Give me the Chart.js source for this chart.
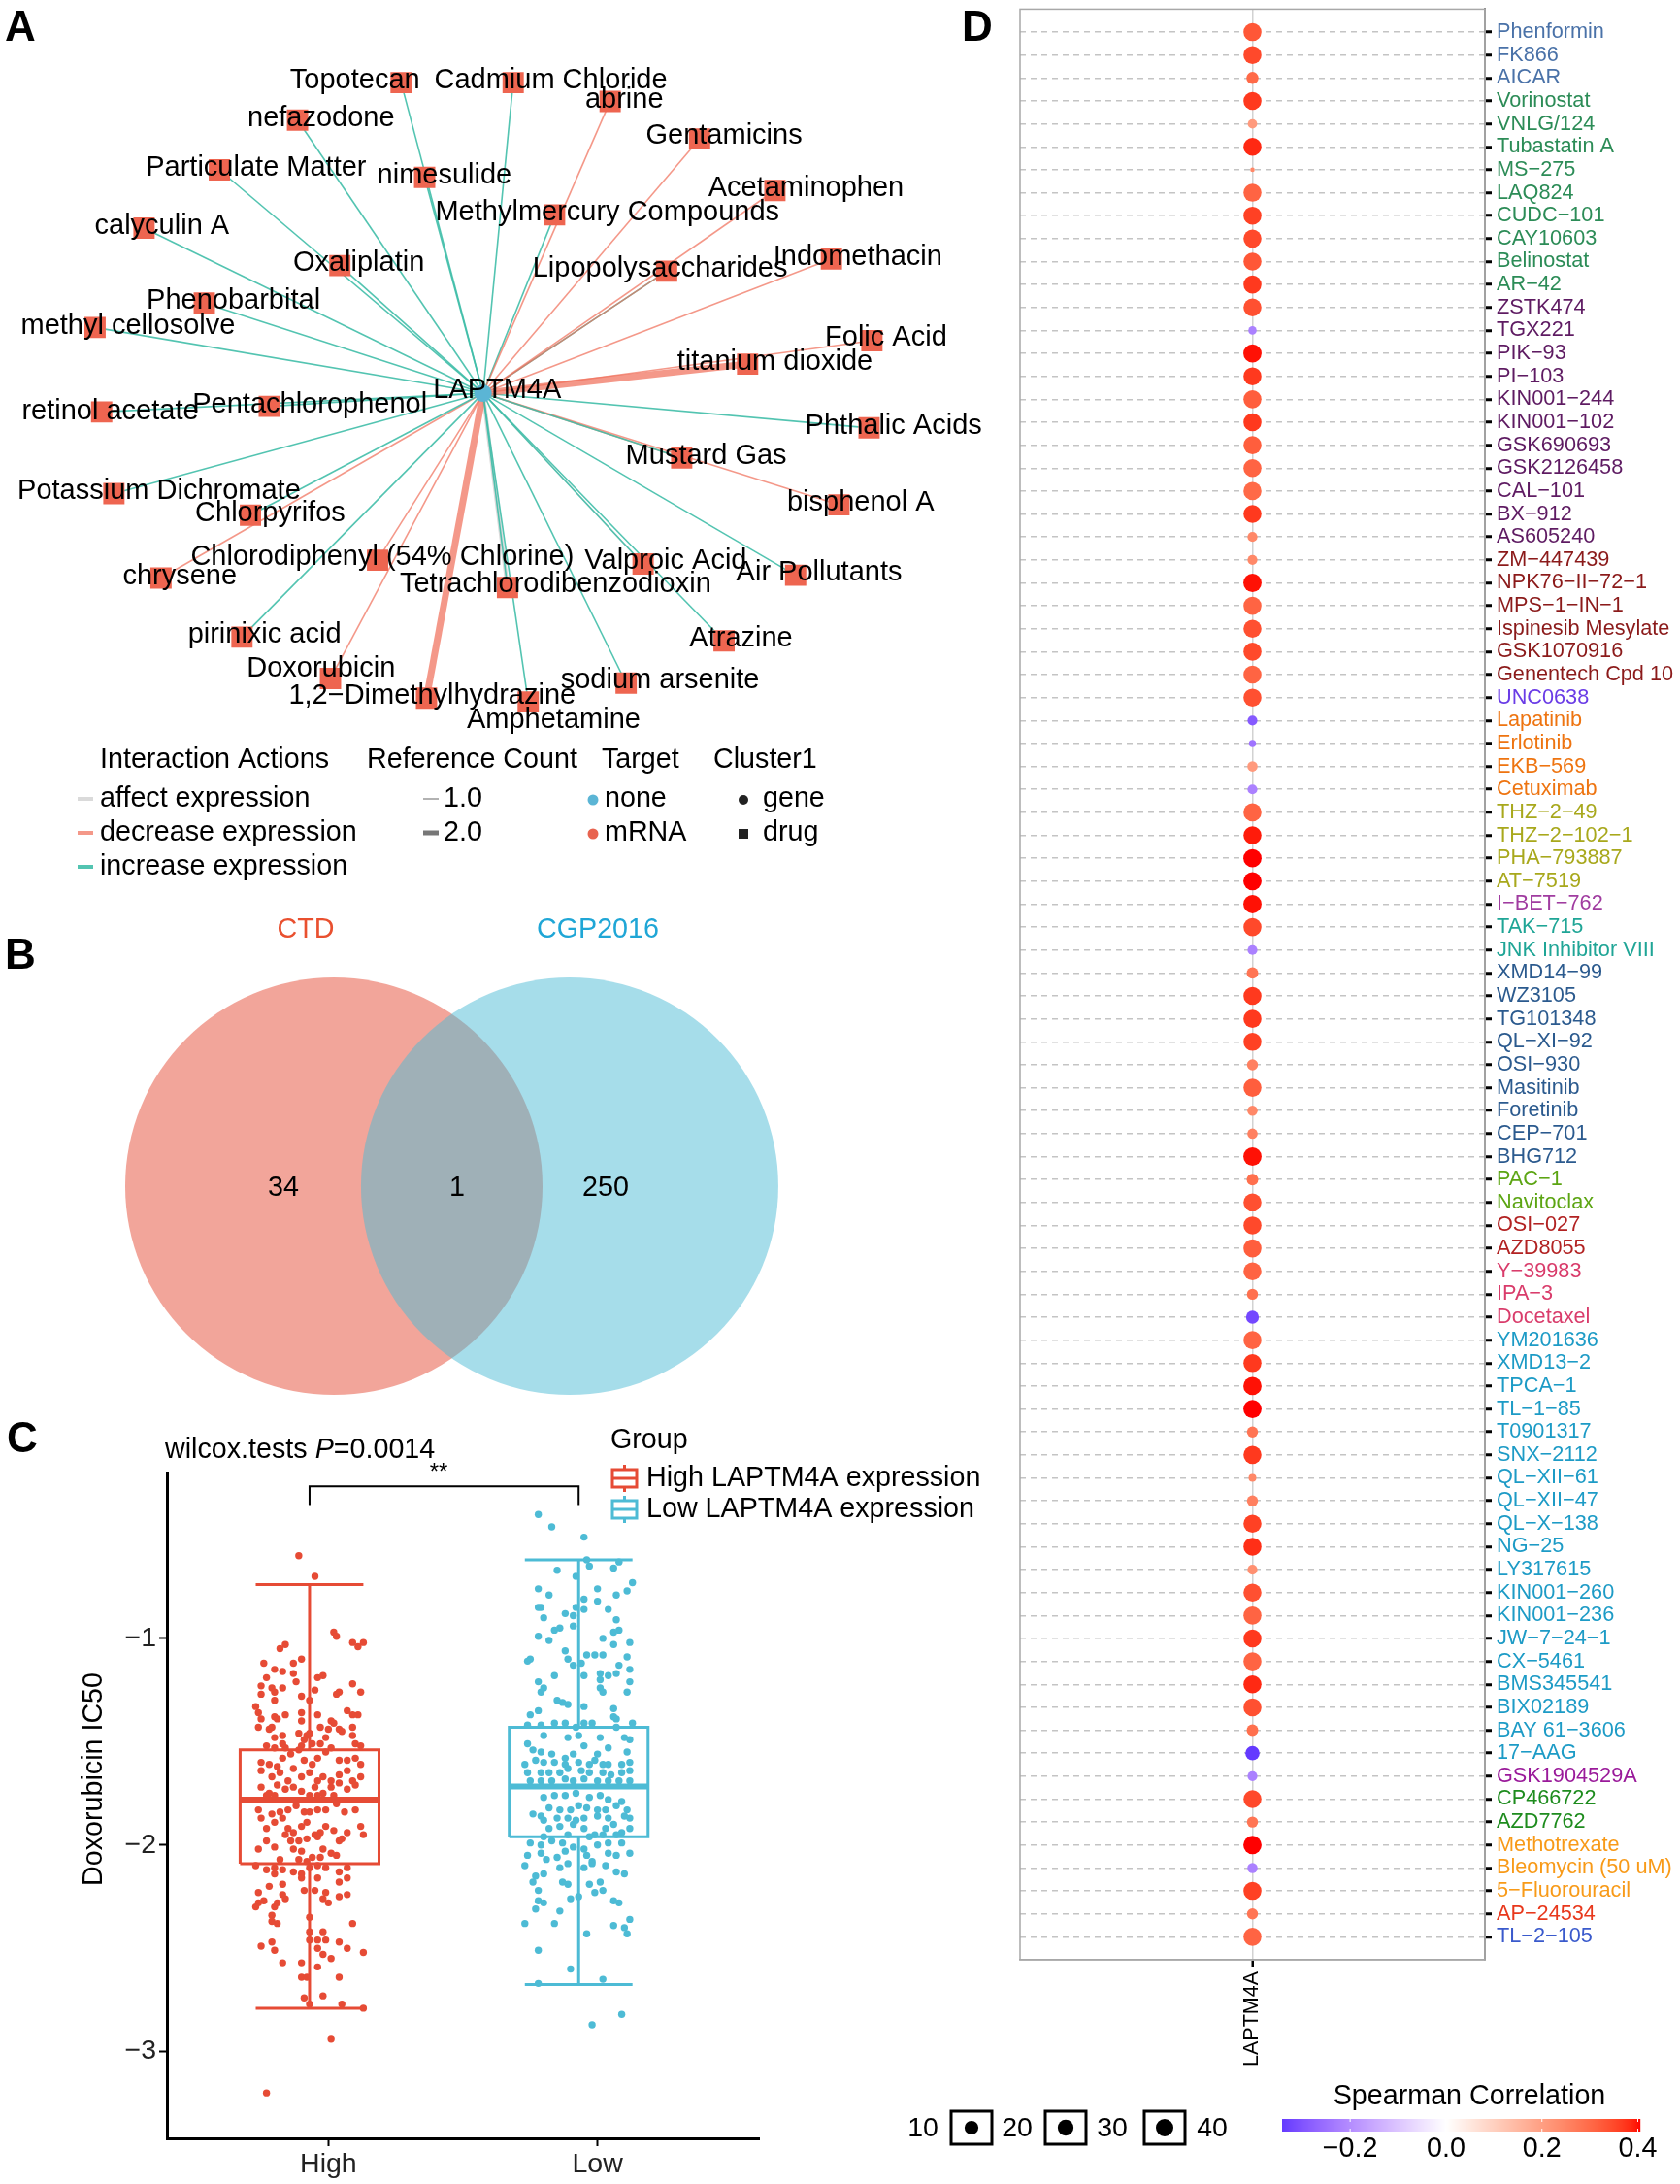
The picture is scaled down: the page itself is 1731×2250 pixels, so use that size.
<!DOCTYPE html>
<html>
<head>
<meta charset="utf-8">
<script src="https://cdn.jsdelivr.net/npm/chart.js@4.4.1/dist/chart.umd.min.js"></script>
<style>
html, body { margin: 0; padding: 0; background: #fff; }
body { width: 1731px; height: 2250px; position: relative; overflow: hidden; }
canvas { position: absolute; }
</style>
</head>
<body>
<canvas id="netChart" width="1040" height="930" style="left:0;top:0"></canvas>
<canvas id="vennChart" width="840" height="520" style="left:0;top:930px"></canvas>
<canvas id="boxChart" width="1040" height="810" style="left:0;top:1440px"></canvas>
<canvas id="dotChart" width="831" height="2250" style="left:900px;top:0"></canvas>
<script>
/* ---------- DATA: A (CTD interaction network) ---------- */
const geneName = "LAPTM4A";
const nodeNames = ["Topotecan", "Cadmium Chloride", "abrine", "nefazodone", "Gentamicins",
    "Particulate Matter", "nimesulide", "Acetaminophen", "Methylmercury Compounds", "calyculin A",
    "Oxaliplatin", "Lipopolysaccharides", "Indomethacin", "Phenobarbital", "methyl cellosolve",
    "Folic Acid", "titanium dioxide", "retinol acetate", "Pentachlorophenol", "Phthalic Acids",
    "Mustard Gas", "Potassium Dichromate", "bisphenol A", "Chlorpyrifos", "Chlorodiphenyl (54% Chlorine)",
    "Valproic Acid", "Air Pollutants", "chrysene", "Tetrachlorodibenzodioxin", "pirinixic acid",
    "Atrazine", "Doxorubicin", "sodium arsenite", "1,2\u2212Dimethylhydrazine", "Amphetamine"];
// layout coordinates (gene at 0,0)
const nodeX = [-8.7, 3.2, 13.5, -19.7, 23.0, -28.0, -6.2, 31.0, 7.6, -36.0, -15.2, 19.5, 37.0, -29.6, -41.2,
    41.3, 28.1, -40.5, -22.7, 41.0, 21.1, -39.2, 37.8, -24.7, -11.2, 17.0, 33.2, -34.2, 2.6, -25.6,
    25.6, -16.2, 15.2, -6.0, 4.8];
const nodeY = [33.1, 33.1, 31.1, 29.1, 27.1, 23.8, 23.0, 21.6, 19.0, 17.6, 13.6, 13.0, 14.3, 9.6, 7.0,
    5.6, 3.1, -2.0, -1.4, -3.7, -6.9, -10.7, -11.9, -13.0, -17.8, -18.2, -19.4, -19.7, -20.7, -26.0,
    -26.4, -30.4, -30.9, -32.5, -32.9];
const labelX = [-13.6, 7.2, 15.0, -17.2, 25.6, -24.1, -4.1, 34.3, 13.2, -34.1, -13.2, 18.8, 39.8, -26.5, -37.7,
    42.8, 31.0, -39.6, -18.4, 43.6, 23.7, -34.4, 40.1, -22.6, -10.7, 19.4, 35.7, -32.2, 7.7, -23.2,
    27.4, -17.2, 18.8, -5.4, 7.5];
const labelY = [33.3, 33.3, 31.3, 29.3, 27.4, 24.0, 23.2, 21.8, 19.2, 17.8, 13.9, 13.2, 14.5, 9.8, 7.1,
    5.9, 3.3, -2.0, -1.2, -3.5, -6.7, -10.4, -11.7, -12.8, -17.5, -17.9, -19.1, -19.5, -20.4, -25.8,
    -26.2, -29.4, -30.6, -32.3, -34.9];
const geneLabel = [1.5, 0.3];
const edgeNode = [0, 1, 2, 3, 4, 5, 6, 7, 8, 9, 10, 11, 11, 12, 13, 14, 15, 16, 17, 18, 19, 20, 20,
    21, 22, 23, 24, 25, 25, 26, 27, 28, 28, 29, 30, 31, 32, 33, 34];
const edgeAction = ["increase", "increase", "decrease", "increase", "decrease", "increase", "increase",
    "decrease", "increase", "increase", "increase", "decrease", "increase", "decrease", "increase",
    "increase", "decrease", "decrease", "increase", "increase", "increase", "increase", "decrease",
    "increase", "decrease", "increase", "decrease", "affect", "increase", "increase", "decrease",
    "affect", "increase", "increase", "increase", "decrease", "increase", "decrease", "increase"];
const edgeRefs = [1, 1, 1, 1, 1, 1, 1, 1, 1, 1, 1, 1, 1, 1, 1, 1, 1, 2, 1, 1, 1, 1, 1,
    1, 1, 1, 1, 1, 1, 1, 1, 2, 1, 1, 1, 1, 1, 2, 1];

/* ---------- DATA: B (Venn) ---------- */
const vennSets = ["CTD", "CGP2016"];
const vennCounts = [34, 1, 250];   // CTD only, shared, CGP2016 only

/* ---------- DATA: C (Doxorubicin IC50 by group) ---------- */
const groupNames = ["High", "Low"];
const groupLegend = ["High LAPTM4A expression", "Low LAPTM4A expression"];
const pValue = "0.0014";
const yTicksC = [-1, -2, -3];
// [lower whisker, Q1, median, Q3, upper whisker]
const boxStats = [[-2.79, -2.09, -1.78, -1.54, -0.74], [-2.675, -1.96, -1.717, -1.43, -0.62]];
// [IC50, jitter]
const highPoints = [[-0.60,-0.04],[-0.70,0.02],[-0.97,0.09],[-0.99,0.10],[-1.02,0.16],[-1.02,0.20],[-1.04,0.18],
[-1.03,-0.09],[-1.05,-0.11],[-1.10,-0.03],[-1.12,-0.06],[-1.12,-0.17],[-1.15,-0.13],[-1.16,-0.10],[-1.17,-0.06],
[-1.19,-0.16],[-1.21,-0.05],[-1.19,0.03],[-1.18,0.05],[-1.23,-0.18],[-1.24,-0.14],[-1.24,-0.10],[-1.26,-0.13],
[-1.27,-0.18],[-1.26,0.11],[-1.27,0.10],[-1.22,0.16],[-1.26,0.19],[-1.28,-0.03],[-1.25,0.02],[-1.30,-0.13],
[-1.30,0.00],[-1.33,-0.20],[-1.36,-0.19],[-1.36,-0.03],[-1.37,-0.09],[-1.38,-0.13],[-1.39,-0.12],[-1.39,-0.18],
[-1.35,0.14],[-1.37,0.16],[-1.37,0.18],[-1.37,0.03],[-1.40,0.08],[-1.40,-0.03],[-1.43,-0.19],[-1.44,-0.15],
[-1.43,-0.14],[-1.43,0.04],[-1.41,0.09],[-1.44,0.11],[-1.44,0.07],[-1.43,0.16],[-1.45,0.12],[-1.46,-0.04],
[-1.47,-0.01],[-1.46,0.00],[-1.47,-0.10],[-1.48,-0.13],[-1.48,0.06],[-1.49,-0.02],[-1.47,0.16],[-1.51,0.17],
[-1.52,0.19],[-1.52,-0.16],[-1.53,-0.13],[-1.51,-0.10],[-1.53,-0.09],[-1.52,-0.03],[-1.51,0.01],[-1.51,0.04],
[-1.53,0.08],[-1.60,-0.18],[-1.61,-0.15],[-1.62,-0.12],[-1.58,-0.10],[-1.56,-0.07],[-1.54,-0.04],[-1.59,-0.02],
[-1.61,0.01],[-1.58,0.03],[-1.55,0.06],[-1.59,0.11],[-1.59,0.14],[-1.58,0.17],[-1.61,0.19],[-1.64,-0.18],
[-1.67,-0.14],[-1.65,-0.11],[-1.69,-0.08],[-1.63,-0.06],[-1.67,-0.03],[-1.65,0.00],[-1.69,0.03],[-1.67,0.05],
[-1.69,0.08],[-1.66,0.11],[-1.64,0.14],[-1.69,0.16],[-1.67,0.19],[-1.72,-0.18],[-1.75,-0.15],[-1.71,-0.12],
[-1.73,-0.09],[-1.72,-0.06],[-1.74,-0.03],[-1.76,0.00],[-1.72,0.02],[-1.75,0.05],[-1.72,0.08],[-1.70,0.11],
[-1.73,0.14],[-1.71,0.17],[-1.76,-0.16],[-1.76,-0.13],[-1.76,0.03],[-1.76,0.09],[-1.83,-0.19],[-1.87,-0.18],
[-1.85,-0.14],[-1.84,-0.11],[-1.83,-0.08],[-1.81,-0.05],[-1.84,-0.02],[-1.84,0.00],[-1.83,0.03],[-1.83,0.06],
[-1.80,0.10],[-1.84,0.13],[-1.83,0.17],[-1.92,-0.16],[-1.89,-0.13],[-1.87,-0.10],[-1.92,-0.08],[-1.94,-0.06],
[-1.91,-0.03],[-1.89,-0.01],[-1.95,0.02],[-1.94,0.04],[-1.91,0.06],[-1.93,0.09],[-1.97,0.12],[-1.94,0.14],
[-1.91,0.19],[-1.95,0.20],[-2.02,-0.19],[-1.98,-0.16],[-2.01,-0.13],[-1.95,-0.09],[-1.98,-0.07],[-1.98,-0.04],
[-1.97,-0.01],[-1.96,0.03],[-2.02,0.05],[-2.04,0.08],[-1.98,0.11],[-2.02,-0.06],[-2.03,-0.03],[-2.06,0.01],
[-2.06,0.04],[-2.05,0.10],[-2.07,-0.11],[-2.07,-0.04],[-2.08,-0.01],[-2.10,-0.20],[-2.12,-0.16],[-2.11,-0.13],
[-2.12,-0.10],[-2.13,-0.06],[-2.14,-0.03],[-2.11,0.00],[-2.10,0.03],[-2.11,0.06],[-2.13,0.11],[-2.11,0.14],
[-2.14,-0.13],[-2.16,-0.03],[-2.16,0.03],[-2.18,0.11],[-2.16,0.14],[-2.20,-0.15],[-2.19,-0.10],[-2.22,-0.02],
[-2.22,0.02],[-2.23,0.06],[-2.25,0.11],[-2.24,0.14],[-2.23,-0.19],[-2.24,-0.10],[-2.28,-0.19],[-2.27,-0.17],
[-2.30,-0.13],[-2.26,-0.09],[-2.26,0.05],[-2.28,0.07],[-2.30,-0.20],[-2.28,-0.12],[-2.34,-0.14],[-2.38,-0.12],
[-2.37,-0.14],[-2.35,0.00],[-2.38,0.16],[-2.42,0.00],[-2.42,0.05],[-2.46,0.00],[-2.46,0.03],[-2.46,0.06],
[-2.49,-0.18],[-2.47,-0.14],[-2.51,-0.13],[-2.50,0.03],[-2.47,0.11],[-2.50,0.14],[-2.52,0.20],[-2.53,0.05],
[-2.55,0.08],[-2.57,-0.10],[-2.57,-0.03],[-2.59,0.03],[-2.64,-0.03],[-2.64,-0.01],[-2.64,0.11],[-2.74,-0.02],
[-2.73,0.05],[-2.77,0.12],[-2.77,0.00],[-2.79,0.20],[-2.94,0.08],[-3.20,-0.16]];
const lowPoints = [[-0.40,-0.15],[-0.46,-0.10],[-0.51,0.02],[-0.62,0.03],[-0.65,0.04],[-0.63,0.15],[-0.66,0.13],
[-0.67,-0.08],[-0.70,-0.01],[-0.73,0.20],[-0.76,-0.15],[-0.79,-0.11],[-0.76,0.07],[-0.77,0.18],[-0.79,0.14],
[-0.81,0.02],[-0.85,-0.14],[-0.85,-0.15],[-0.82,0.07],[-0.85,-0.01],[-0.86,0.02],[-0.86,0.11],[-0.88,-0.05],
[-0.89,-0.02],[-0.90,-0.13],[-0.91,0.14],[-0.94,-0.02],[-0.95,-0.07],[-0.96,-0.09],[-0.96,0.15],[-0.97,0.13],
[-0.99,-0.15],[-1.00,0.09],[-1.01,-0.11],[-1.03,0.13],[-1.02,0.19],[-1.06,-0.05],[-1.08,0.03],[-1.08,0.06],
[-1.08,0.09],[-1.10,-0.04],[-1.11,-0.19],[-1.10,-0.18],[-1.13,-0.02],[-1.12,0.01],[-1.09,0.18],[-1.13,0.15],
[-1.15,0.19],[-1.18,-0.09],[-1.18,0.02],[-1.17,0.08],[-1.17,0.14],[-1.18,0.11],[-1.20,0.08],[-1.21,-0.15],
[-1.24,-0.13],[-1.26,-0.14],[-1.21,0.19],[-1.24,0.08],[-1.26,0.09],[-1.26,0.18],[-1.30,-0.08],[-1.31,-0.06],
[-1.32,-0.04],[-1.33,0.02],[-1.34,0.13],[-1.35,-0.15],[-1.37,-0.18],[-1.38,0.13],[-1.39,0.14],[-1.42,-0.19],
[-1.42,-0.14],[-1.41,-0.09],[-1.41,-0.05],[-1.43,-0.01],[-1.41,0.02],[-1.41,0.05],[-1.43,0.14],[-1.41,0.20],
[-1.47,-0.13],[-1.48,-0.04],[-1.47,0.00],[-1.48,0.08],[-1.48,0.17],[-1.49,0.19],[-1.51,-0.19],[-1.54,-0.17],
[-1.55,-0.14],[-1.56,-0.10],[-1.58,-0.05],[-1.56,-0.02],[-1.52,0.02],[-1.56,0.07],[-1.53,0.11],[-1.55,0.18],
[-1.61,-0.20],[-1.59,-0.16],[-1.60,-0.13],[-1.60,-0.09],[-1.61,-0.05],[-1.60,0.00],[-1.61,0.04],[-1.59,0.06],
[-1.61,0.09],[-1.61,0.11],[-1.61,0.16],[-1.60,0.19],[-1.65,-0.19],[-1.65,-0.14],[-1.65,-0.11],[-1.65,-0.07],
[-1.63,-0.04],[-1.64,0.01],[-1.65,0.04],[-1.65,0.09],[-1.66,0.12],[-1.65,0.16],[-1.64,0.19],[-1.69,-0.18],
[-1.69,-0.14],[-1.69,-0.10],[-1.68,-0.05],[-1.69,-0.02],[-1.68,0.02],[-1.69,0.07],[-1.69,0.11],[-1.69,0.15],
[-1.69,0.19],[-1.77,-0.13],[-1.76,-0.09],[-1.76,-0.05],[-1.75,-0.01],[-1.77,0.04],[-1.76,0.08],[-1.78,0.11],
[-1.79,0.16],[-1.85,-0.17],[-1.86,-0.14],[-1.82,-0.11],[-1.83,-0.07],[-1.83,-0.03],[-1.81,0.00],[-1.82,0.03],
[-1.83,0.07],[-1.83,0.10],[-1.81,0.14],[-1.83,0.18],[-1.88,-0.13],[-1.87,-0.08],[-1.87,-0.04],[-1.88,-0.01],
[-1.87,0.02],[-1.86,0.07],[-1.87,0.11],[-1.86,0.17],[-1.87,0.19],[-1.92,-0.11],[-1.91,-0.07],[-1.90,-0.02],
[-1.92,0.02],[-1.95,0.06],[-1.92,0.10],[-1.90,0.13],[-1.94,0.16],[-1.92,0.19],[-1.96,-0.13],[-1.95,-0.04],
[-1.96,0.04],[-1.95,0.09],[-1.95,0.14],[-1.99,-0.18],[-2.00,-0.14],[-1.98,-0.10],[-1.99,-0.06],[-2.01,-0.02],
[-2.02,0.02],[-2.00,0.07],[-1.99,0.11],[-1.99,0.16],[-2.05,-0.19],[-2.04,-0.14],[-2.07,-0.12],[-2.06,-0.08],
[-2.03,-0.05],[-2.05,0.03],[-2.08,0.05],[-2.04,0.11],[-2.05,0.14],[-2.04,0.19],[-2.10,-0.20],[-2.15,-0.16],
[-2.14,-0.13],[-2.11,-0.07],[-2.09,-0.04],[-2.11,0.02],[-2.09,0.05],[-2.10,0.10],[-2.13,0.14],[-2.14,0.17],
[-2.18,-0.17],[-2.22,-0.15],[-2.18,-0.06],[-2.19,-0.04],[-2.19,0.04],[-2.18,0.08],[-2.23,0.06],[-2.22,0.09],
[-2.27,-0.15],[-2.28,-0.13],[-2.26,-0.03],[-2.25,0.00],[-2.27,0.13],[-2.28,0.15],[-2.31,-0.16],[-2.32,-0.07],
[-2.38,-0.20],[-2.38,-0.09],[-2.39,0.13],[-2.40,0.17],[-2.43,0.18],[-2.36,0.19],[-2.43,0.03],[-2.51,-0.15],
[-2.60,-0.03],[-2.65,0.09],[-2.67,-0.15],[-2.87,0.05],[-2.82,0.16]];

/* ---------- DATA: D (drug sensitivity correlation) ---------- */
const drugNames = ["Phenformin", "FK866", "AICAR", "Vorinostat", "VNLG/124", "Tubastatin A", "MS\u2212275",
    "LAQ824", "CUDC\u2212101", "CAY10603", "Belinostat", "AR\u221242", "ZSTK474", "TGX221", "PIK\u221293",
    "PI\u2212103", "KIN001\u2212244", "KIN001\u2212102", "GSK690693", "GSK2126458", "CAL\u2212101", "BX\u2212912",
    "AS605240", "ZM\u2212447439", "NPK76\u2212II\u221272\u22121", "MPS\u22121\u2212IN\u22121", "Ispinesib Mesylate",
    "GSK1070916", "Genentech Cpd 10", "UNC0638", "Lapatinib", "Erlotinib", "EKB\u2212569", "Cetuximab",
    "THZ\u22122\u221249", "THZ\u22122\u2212102\u22121", "PHA\u2212793887", "AT\u22127519", "I\u2212BET\u2212762",
    "TAK\u2212715", "JNK Inhibitor VIII", "XMD14\u221299", "WZ3105", "TG101348", "QL\u2212XI\u221292",
    "OSI\u2212930", "Masitinib", "Foretinib", "CEP\u2212701", "BHG712", "PAC\u22121", "Navitoclax",
    "OSI\u2212027", "AZD8055", "Y\u221239983", "IPA\u22123", "Docetaxel", "YM201636", "XMD13\u22122",
    "TPCA\u22121", "TL\u22121\u221285", "T0901317", "SNX\u22122112", "QL\u2212XII\u221261", "QL\u2212XII\u221247",
    "QL\u2212X\u2212138", "NG\u221225", "LY317615", "KIN001\u2212260", "KIN001\u2212236", "JW\u22127\u221224\u22121",
    "CX\u22125461", "BMS345541", "BIX02189", "BAY 61\u22123606", "17\u2212AAG", "GSK1904529A", "CP466722",
    "AZD7762", "Methotrexate", "Bleomycin (50 uM)", "5\u2212Fluorouracil", "AP\u221224534", "TL\u22122\u2212105"];
const drugGroup = [0, 0, 0, 1, 1, 1, 1, 1, 1, 1, 1, 1, 2, 2, 2, 2, 2, 2, 2, 2, 2, 2, 2, 3, 3, 3, 3, 3, 3,
    4, 5, 5, 5, 5, 6, 6, 6, 6, 7, 8, 8, 9, 9, 9, 9, 9, 9, 9, 9, 9, 10, 10, 11, 11, 12, 12, 12,
    13, 13, 13, 13, 13, 13, 13, 13, 13, 13, 13, 13, 13, 13, 13, 13, 13, 13, 13, 14, 15, 15, 16, 16, 16, 17, 18];
const drugCorr = [0.33, 0.35, 0.30, 0.37, 0.21, 0.385, 0.245, 0.31, 0.36, 0.35, 0.33, 0.37, 0.34, -0.22,
    0.40, 0.37, 0.32, 0.37, 0.32, 0.31, 0.30, 0.37, 0.245, 0.245, 0.40, 0.31, 0.34, 0.35, 0.31, 0.34,
    -0.29, -0.245, 0.21, -0.22, 0.31, 0.395, 0.405, 0.405, 0.40, 0.35, -0.22, 0.28, 0.37, 0.37, 0.36,
    0.26, 0.32, 0.245, 0.26, 0.40, 0.29, 0.34, 0.35, 0.32, 0.31, 0.29, -0.32, 0.31, 0.37, 0.40, 0.405,
    0.28, 0.37, 0.245, 0.26, 0.36, 0.38, 0.23, 0.34, 0.31, 0.37, 0.31, 0.385, 0.34, 0.29, -0.342,
    -0.22, 0.35, 0.28, 0.405, -0.22, 0.36, 0.28, 0.31];
const drugSize = [40, 40, 18, 40, 11, 40, 2.5, 40, 40, 40, 40, 40, 40, 8.5, 41, 40, 40, 40, 40, 40, 40, 40,
    12, 12, 41, 40, 40, 40, 40, 40, 12, 6.3, 13, 12, 40, 40, 41, 41, 41, 40, 12, 16.5, 40, 40, 40,
    15, 40, 13, 13, 41, 16.5, 40, 40, 40, 40, 15, 20.5, 40, 40, 41, 41, 15, 40, 7.5, 15, 40, 40, 12,
    40, 40, 40, 40, 40, 40, 16.5, 25, 12, 40, 15, 41, 13, 40, 15, 40];
const sizeBreaks = [10, 20, 30, 40];
const corrBreaks = [-0.2, 0.0, 0.2, 0.4];

/* ---------- STYLE ---------- */
const FONT = "'Liberation Sans', Arial, Helvetica, sans-serif";
const actionColors = { affect: "rgba(205,205,205,0.75)", decrease: "rgba(240,112,92,0.72)", increase: "rgba(64,190,168,0.9)" };
const groupColors = ["#E64B35", "#4DBBD5"];
const labelColors = ["#4A72A8", "#2C8C57", "#5E1B62", "#8B1A1A", "#6A3CE6", "#EE7410", "#A8A81C",
    "#A03CA0", "#1FA596", "#2B5A8E", "#5CA513", "#B22222", "#D93C6B", "#1D9BC6", "#9A1A9A",
    "#1E8C1E", "#F89A18", "#E8381C", "#3A5ACC"];

Chart.defaults.font.family = FONT;
Chart.defaults.color = "#000";
Chart.defaults.animation = false;
Chart.defaults.events = [];
Chart.defaults.plugins.legend.display = false;
Chart.defaults.plugins.tooltip.enabled = false;

function font(size, weight, style) {
    return (style || "") + " " + (weight || "normal") + " " + size + "px " + FONT;
}
function letter(ctx, t, x, y) {
    ctx.save();
    ctx.font = font(44, "bold");
    ctx.fillStyle = "#000";
    ctx.textAlign = "center";
    ctx.textBaseline = "alphabetic";
    ctx.fillText(t, x, y + 16);
    ctx.restore();
}

/* ---------- colour scale (Lab ramp blue - white - red) ---------- */
function toLab(rgb) {
    const lin = rgb.map(c => { c /= 255; return c <= 0.04045 ? c / 12.92 : Math.pow((c + 0.055) / 1.055, 2.4); });
    const X = (0.4124 * lin[0] + 0.3576 * lin[1] + 0.1805 * lin[2]) / 0.95047;
    const Y = 0.2126 * lin[0] + 0.7152 * lin[1] + 0.0722 * lin[2];
    const Z = (0.0193 * lin[0] + 0.1192 * lin[1] + 0.9505 * lin[2]) / 1.08883;
    const f = t => t > 0.008856 ? Math.cbrt(t) : 7.787 * t + 16 / 116;
    return [116 * f(Y) - 16, 500 * (f(X) - f(Y)), 200 * (f(Y) - f(Z))];
}
function fromLab(lab) {
    const fy = (lab[0] + 16) / 116, fx = fy + lab[1] / 500, fz = fy - lab[2] / 200;
    const inv = t => t * t * t > 0.008856 ? t * t * t : (t - 16 / 116) / 7.787;
    const X = inv(fx) * 0.95047, Y = inv(fy), Z = inv(fz) * 1.08883;
    const r = 3.2406 * X - 1.5372 * Y - 0.4986 * Z;
    const g = -0.9689 * X + 1.8758 * Y + 0.0415 * Z;
    const b = 0.0557 * X - 0.2040 * Y + 1.0570 * Z;
    const gam = c => { c = c <= 0.0031308 ? 12.92 * c : 1.055 * Math.pow(c, 1 / 2.4) - 0.055; return Math.round(Math.max(0, Math.min(1, c)) * 255); };
    return "rgb(" + gam(r) + "," + gam(g) + "," + gam(b) + ")";
}
const LAB_LOW = toLab([0, 0, 255]), LAB_MID = toLab([255, 255, 255]), LAB_HIGH = toLab([255, 0, 0]);
const CORR_MIN = Math.min(...drugCorr), CORR_MAX = Math.max(...drugCorr);
const CORR_ABS = Math.max(Math.abs(CORR_MIN), Math.abs(CORR_MAX));
function corrColor(c) {
    const t = Math.min(1, Math.abs(c) / CORR_ABS);
    const end = c < 0 ? LAB_LOW : LAB_HIGH;
    return fromLab(LAB_MID.map((m, i) => m + (end[i] - m) * t));
}
function dotRadius(v) { return 9.3 * Math.sqrt(v / 40); }

/* ---------- A: NETWORK ---------- */
const netPlugin = {
    id: "netText",
    afterDatasetsDraw(chart) {
        const { ctx, scales: { x, y } } = chart;
        ctx.save();
        ctx.fillStyle = "#000";
        ctx.textAlign = "center";
        ctx.textBaseline = "middle";
        ctx.font = font(29);
        nodeNames.forEach((n, i) => ctx.fillText(n, x.getPixelForValue(labelX[i]), y.getPixelForValue(labelY[i])));
        ctx.font = font(29);
        ctx.fillText(geneName, x.getPixelForValue(geneLabel[0]), y.getPixelForValue(geneLabel[1]));

        // legend
        ctx.textAlign = "left";
        ctx.font = font(28.7);
        [["Interaction Actions", 103], ["Reference Count", 378], ["Target", 620], ["Cluster1", 735]]
            .forEach(t => ctx.fillText(t[0], t[1], 783));
        const rows = [823, 858, 893];
        ["affect", "decrease", "increase"].forEach((a, i) => {
            ctx.strokeStyle = actionColors[a];
            ctx.lineWidth = 4;
            ctx.beginPath(); ctx.moveTo(80, rows[i]); ctx.lineTo(96, rows[i]); ctx.stroke();
            ctx.fillText(a + " expression", 103, rows[i]);
        });
        [[1.5, "#999", "1.0"], [5, "#777", "2.0"]].forEach((r, i) => {
            ctx.strokeStyle = r[1]; ctx.lineWidth = r[0];
            ctx.beginPath(); ctx.moveTo(436, rows[i]); ctx.lineTo(452, rows[i]); ctx.stroke();
            ctx.fillText(r[2], 457, rows[i]);
        });
        [["#5BB5D5", "none"], ["#E8634F", "mRNA"]].forEach((r, i) => {
            ctx.fillStyle = r[0];
            ctx.beginPath(); ctx.arc(611, rows[i] + 1, 5.5, 0, Math.PI * 2); ctx.fill();
            ctx.fillStyle = "#000";
            ctx.fillText(r[1], 623, rows[i]);
        });
        ctx.fillStyle = "#222";
        ctx.beginPath(); ctx.arc(766, rows[0] + 1, 5, 0, Math.PI * 2); ctx.fill();
        ctx.fillRect(761, rows[1] - 4, 10, 10);
        ctx.fillStyle = "#000";
        ctx.fillText("gene", 786, rows[0]);
        ctx.fillText("drug", 786, rows[1]);
        ctx.restore();
        letter(ctx, "A", 21, 26);
    }
};

const edgeDatasets = edgeNode.map((n, i) => ({
    showLine: true,
    data: [{ x: 0, y: 0 }, { x: nodeX[n], y: nodeY[n] }],
    borderColor: actionColors[edgeAction[i]],
    borderWidth: edgeRefs[i] === 2 ? (edgeAction[i] === "affect" ? 4 : 7) : 1.6,
    pointRadius: 0,
    order: edgeAction[i] === "affect" ? 12 : 10
}));

new Chart(document.getElementById("netChart"), {
    type: "scatter",
    data: {
        datasets: [
            ...edgeDatasets,
            {
                data: nodeNames.map((n, i) => ({ x: nodeX[i], y: nodeY[i] })),
                pointStyle: "rect", pointRadius: 15.5, backgroundColor: "#EE6550", borderWidth: 0, order: 2
            },
            {
                data: [{ x: 0, y: 0 }],
                pointStyle: "circle", pointRadius: 9, backgroundColor: "#5BB5D5", borderWidth: 0, order: 1
            }
        ]
    },
    options: {
        responsive: false, devicePixelRatio: 1,
        layout: { padding: 0 },
        scales: {
            x: { type: "linear", display: false, min: -49.7, max: 54.3 },
            y: { type: "linear", display: false, min: -52.7, max: 40.3 }
        }
    },
    plugins: [netPlugin]
});

/* ---------- B: VENN ---------- */
const vennCentre = [-0.565, 0.565];
const vennFill = ["rgba(230,75,53,0.5)", "rgba(77,187,213,0.5)"];
const vennText = ["#E9502F", "#1FA6D6"];
const vennPlugin = {
    id: "vennText",
    afterDatasetsDraw(chart) {
        const { ctx, scales: { x, y } } = chart;
        ctx.save();
        ctx.textAlign = "center";
        ctx.textBaseline = "middle";
        ctx.font = font(28.7);
        vennSets.forEach((s, i) => {
            ctx.fillStyle = vennText[i];
            ctx.fillText(s, x.getPixelForValue(i ? 0.70 : -0.70), y.getPixelForValue(1.228));
        });
        ctx.fillStyle = "#000";
        const pos = [-0.807, 0.026, 0.737];
        vennCounts.forEach((c, i) => ctx.fillText(String(c), x.getPixelForValue(pos[i]), y.getPixelForValue(-0.01)));
        ctx.restore();
        letter(ctx, "B", 21, 52);
    }
};
new Chart(document.getElementById("vennChart"), {
    type: "scatter",
    data: {
        datasets: vennSets.map((s, i) => ({
            data: [{ x: vennCentre[i], y: 0 }],
            backgroundColor: vennFill[i],
            borderWidth: 0,
            pointRadius: ctx => {
                const xs = ctx.chart.scales.x;
                return xs.getPixelForValue(1) - xs.getPixelForValue(0);
            },
            order: 2 - i
        }))
    },
    options: {
        responsive: false, devicePixelRatio: 1,
        layout: { padding: 0 },
        scales: {
            x: { type: "linear", display: false, min: -2.165, max: 1.742 },
            y: { type: "linear", display: false, min: -1.06, max: 1.358 }
        }
    },
    plugins: [vennPlugin]
});

/* ---------- C: BOXPLOT ---------- */
const boxCenters = [0.93, 1.93];
const BOX_HALF = 0.258, CAP_HALF = 0.2;
function boxDatasets(g) {
    const [lo, q1, med, q3, hi] = boxStats[g];
    const c = boxCenters[g], w = BOX_HALF, cw = CAP_HALF, col = groupColors[g];
    const line = (pts, width) => ({
        showLine: true, data: pts.map(p => ({ x: p[0], y: p[1] })),
        borderColor: col, borderWidth: width, pointRadius: 0, order: 5
    });
    return [
        line([[c - w, q1], [c + w, q1], [c + w, q3], [c - w, q3], [c - w, q1]], 3),
        line([[c - w, med], [c + w, med]], 6),
        line([[c, q3], [c, hi]], 3),
        line([[c, q1], [c, lo]], 3),
        line([[c - cw, hi], [c + cw, hi]], 3),
        line([[c - cw, lo], [c + cw, lo]], 3)
    ];
}
const pointSets = [highPoints, lowPoints].map((pts, g) => ({
    data: pts.map(p => ({ x: boxCenters[g] + p[1], y: p[0] })),
    backgroundColor: groupColors[g], borderWidth: 0, pointRadius: 3.7, order: 1
}));
const bracket = {
    showLine: true,
    data: [{ x: boxCenters[0], y: -0.354 }, { x: boxCenters[0], y: -0.264 }, { x: boxCenters[1], y: -0.264 }, { x: boxCenters[1], y: -0.354 }],
    borderColor: "#000", borderWidth: 2, pointRadius: 0, order: 3
};
const boxPlugin = {
    id: "boxText",
    afterDraw(chart) {
        const { ctx, scales: { x, y } } = chart;
        ctx.save();
        ctx.fillStyle = "#000";
        ctx.textBaseline = "middle";
        // title with italic P
        let tx = 170;
        ctx.textAlign = "left";
        ctx.font = font(28.7);
        ctx.fillText("wilcox.tests ", tx, 54); tx += ctx.measureText("wilcox.tests ").width;
        ctx.font = font(28.7, "normal", "italic");
        ctx.fillText("P", tx, 54); tx += ctx.measureText("P").width;
        ctx.font = font(28.7);
        ctx.fillText("=" + pValue, tx, 54);
        // significance stars
        ctx.textAlign = "center";
        ctx.font = font(24);
        ctx.fillText("**", x.getPixelForValue((boxCenters[0] + boxCenters[1]) / 2 - 0.02), y.getPixelForValue(-0.264) - 14);
        // y title
        ctx.save();
        ctx.translate(97, 393);
        ctx.rotate(-Math.PI / 2);
        ctx.font = font(28.7);
        ctx.fillText("Doxorubicin IC50", 0, 0);
        ctx.restore();
        // legend
        ctx.textAlign = "left";
        ctx.font = font(28.7);
        ctx.fillText("Group", 629, 44);
        [83, 115].forEach((yy, i) => {
            ctx.strokeStyle = groupColors[i];
            ctx.lineWidth = 3;
            ctx.strokeRect(631, yy - 9, 25, 18);
            ctx.beginPath();
            ctx.moveTo(631, yy); ctx.lineTo(656, yy);
            ctx.moveTo(643.5, yy - 9); ctx.lineTo(643.5, yy - 14);
            ctx.moveTo(643.5, yy + 9); ctx.lineTo(643.5, yy + 14);
            ctx.stroke();
            ctx.fillStyle = "#000";
            ctx.fillText(groupLegend[i], 666, yy);
        });
        ctx.restore();
        letter(ctx, "C", 23, 40);
    }
};
new Chart(document.getElementById("boxChart"), {
    type: "scatter",
    data: { datasets: [...pointSets, bracket, ...boxDatasets(0), ...boxDatasets(1)] },
    options: {
        responsive: false, devicePixelRatio: 1,
        layout: { padding: { left: 0, right: 258, top: 77, bottom: 0 } },
        scales: {
            x: {
                type: "linear", min: 0.4, max: 2.6,
                afterBuildTicks: s => { s.ticks = groupNames.map((g, i) => ({ value: i + 1 })); },
                afterFit: s => { s.height = 47; },
                ticks: { callback: v => groupNames[v - 1], font: { size: 28.5 }, color: "#222", padding: 2, autoSkip: false, maxRotation: 0 },
                grid: { drawOnChartArea: false, drawTicks: true, tickLength: 8, tickColor: "#000", tickWidth: 2 },
                border: { color: "#000", width: 3 }
            },
            y: {
                type: "linear", min: -3.42, max: -0.197,
                afterBuildTicks: s => { s.ticks = yTicksC.map(v => ({ value: v })); },
                afterFit: s => { s.width = 172; },
                ticks: { callback: v => (v < 0 ? "\u2212" : "") + Math.abs(v), font: { size: 28.5 }, color: "#222", padding: 3 },
                grid: { drawOnChartArea: false, drawTicks: true, tickLength: 8, tickColor: "#000", tickWidth: 2 },
                border: { color: "#000", width: 3 }
            }
        }
    },
    plugins: [boxPlugin]
});

/* ---------- D: DOT PLOT ---------- */
const dotPlugin = {
    id: "dotExtras",
    beforeDatasetsDraw(chart) {
        const { ctx, chartArea: a } = chart;
        ctx.save();
        ctx.strokeStyle = "#A8A8A8";
        ctx.lineWidth = 1.5;
        ctx.strokeRect(a.left, a.top, a.right - a.left, a.bottom - a.top);
        ctx.restore();
    },
    afterDraw(chart) {
        const { ctx } = chart;
        ctx.save();
        ctx.fillStyle = "#000";
        ctx.textBaseline = "middle";
        ctx.textAlign = "center";
        // size legend
        ctx.font = font(28.5);
        const boxCx = [101, 198, 300], labCx = [51, 148, 246, 349];
        sizeBreaks.forEach((b, i) => ctx.fillText(String(b), labCx[i], 2193));
        ctx.strokeStyle = "#000";
        ctx.lineWidth = 3;
        boxCx.forEach((cx, i) => {
            ctx.strokeRect(cx - 21, 2175, 42, 34);
            ctx.beginPath();
            ctx.arc(cx, 2192, dotRadius(sizeBreaks[i + 1] || sizeBreaks[i]) * 0.7 + 2.5, 0, Math.PI * 2);
            ctx.fill();
        });
        // colour bar
        const bx0 = 421, bx1 = 790, by = 2183, bh = 13;
        const xOf = v => bx0 + (v - CORR_MIN) / (CORR_MAX - CORR_MIN) * (bx1 - bx0);
        for (let px = bx0; px < bx1; px++) {
            const v = CORR_MIN + (px - bx0 + 0.5) / (bx1 - bx0) * (CORR_MAX - CORR_MIN);
            ctx.fillStyle = corrColor(v);
            ctx.fillRect(px, by, 1.2, bh);
        }
        ctx.strokeStyle = "#fff";
        ctx.lineWidth = 1;
        corrBreaks.forEach(v => {
            const px = xOf(v);
            ctx.beginPath();
            ctx.moveTo(px, by); ctx.lineTo(px, by + 3);
            ctx.moveTo(px, by + bh - 3); ctx.lineTo(px, by + bh);
            ctx.stroke();
        });
        ctx.fillStyle = "#000";
        ctx.font = font(28.7);
        corrBreaks.forEach(v => ctx.fillText((v < 0 ? "\u2212" : "") + Math.abs(v).toFixed(1), xOf(v), 2214));
        ctx.fillText("Spearman Correlation", 614, 2160);
        ctx.restore();
        letter(ctx, "D", 107, 26);
    }
};
new Chart(document.getElementById("dotChart"), {
    type: "scatter",
    data: {
        datasets: [{
            data: drugNames.map((d, i) => ({ x: 1, y: i + 1 })),
            pointRadius: ctx => dotRadius(drugSize[ctx.dataIndex]),
            backgroundColor: ctx => corrColor(drugCorr[ctx.dataIndex]),
            borderWidth: 0
        }]
    },
    options: {
        responsive: false, devicePixelRatio: 1,
        layout: { padding: { left: 151, right: 0, top: 8, bottom: 0 } },
        scales: {
            x: {
                type: "linear", min: 0, max: 2,
                afterBuildTicks: s => { s.ticks = [{ value: 1 }]; },
                afterFit: s => { s.height = 231; s.paddingLeft = 0; s.paddingRight = 0; },
                ticks: { callback: () => geneName, font: { size: 21.5 }, color: "#000", minRotation: 90, maxRotation: 90, padding: 5, autoSkip: false },
                grid: { color: "#D2D2D2", lineWidth: 1.5, tickColor: "#000", tickLength: 7, tickWidth: 2.5 },
                border: { color: "#A8A8A8", width: 1.5 }
            },
            y: {
                type: "linear", position: "right", reverse: true, min: 0, max: drugNames.length + 1,
                afterBuildTicks: s => { s.ticks = drugNames.map((d, i) => ({ value: i + 1 })); },
                afterFit: s => { s.width = 201; s.paddingTop = 0; s.paddingBottom = 0; },
                ticks: {
                    callback: v => drugNames[v - 1], autoSkip: false, font: { size: 21.7 }, padding: 5,
                    color: ctx => labelColors[drugGroup[ctx.index]]
                },
                grid: { color: "#C4C4C4", lineWidth: 1.5, tickColor: "#000", tickLength: 7, tickWidth: 3 },
                border: { color: "#8C8C8C", width: 2, dash: [6, 5] }
            }
        }
    },
    plugins: [dotPlugin]
});
</script>
</body>
</html>
